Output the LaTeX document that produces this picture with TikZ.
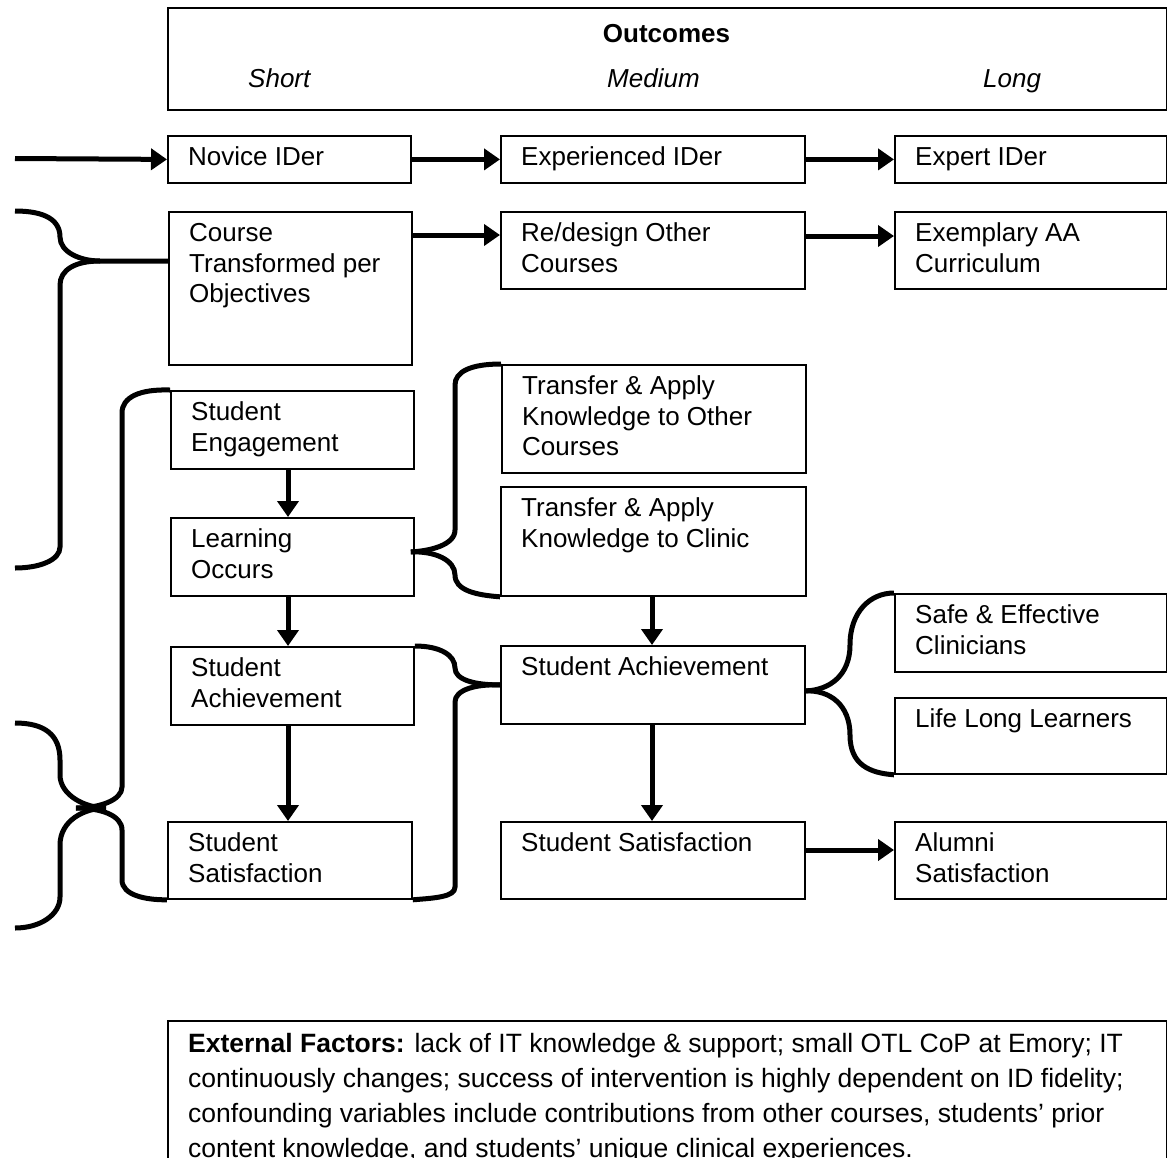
\documentclass[tikz,border=0pt]{standalone}
\usepackage{fontspec}
\setmainfont{Liberation Sans}
\usetikzlibrary{arrows.meta,calc}

\newcommand\lines[2][420pt]{\parbox[t]{#1}{#2}}

\begin{document}
\begin{tikzpicture}[x=1pt,y=-1pt,
  box/.style={draw, line width=1.8pt, inner sep=0pt, anchor=north west},
  txt/.style={anchor=base west, inner sep=0pt, font=\fontsize{26}{30.5}\selectfont},
  flow/.style={line width=5pt, -{Triangle[length=16pt,width=21pt]}},
  brace/.style={line width=5pt}]

\useasboundingbox (0,0) rectangle (1167,1157);

% header
\node[box, minimum width=999, minimum height=102] (outc) at (167,7) {};
\node[txt, anchor=base] (outc-title) at (666.5,42) {\bfseries Outcomes};
\node[txt] (short) at (248,87) {\itshape Short};
\node[txt] (medium) at (607,87) {\itshape Medium};
\node[txt] (long) at (983,87) {\itshape Long};

% boxes: name, x, y, width, height, text
\newcommand\bx[6]{%
  \node[box, minimum width=#4, minimum height=#5] (#1) at (#2,#3) {};
  \node[txt] (#1-t) at ($(#1.north west)+(21,30.5)$) {\lines{#6}};}

\bx{novice}{167}{135}{243}{47}{Novice IDer}
\bx{exper}{500}{135}{304}{47}{Experienced IDer}
\bx{expert}{894}{135}{272}{47}{Expert IDer}
\bx{course}{168}{211}{243}{153}{Course\\Transformed per\\Objectives}
\bx{redes}{500}{211}{304}{77}{Re/design Other\\Courses}
\bx{exempl}{894}{211}{272}{77}{Exemplary AA\\Curriculum}
\bx{engage}{170}{390}{243}{78}{Student\\Engagement}
\bx{trother}{501}{364}{304}{108}{Transfer \& Apply\\Knowledge to Other\\Courses}
\bx{learn}{170}{517}{243}{78}{Learning\\Occurs}
\bx{trclin}{500}{486}{305}{109}{Transfer \& Apply\\Knowledge to Clinic}
\bx{achs}{170}{646}{243}{78}{Student\\Achievement}
\bx{achm}{500}{645}{304}{78}{Student Achievement}
\bx{safe}{894}{593}{272}{78}{Safe \& Effective\\Clinicians}
\bx{life}{894}{697}{272}{76}{Life Long Learners}
\bx{sats}{167}{821}{244}{77}{Student\\Satisfaction}
\bx{satm}{500}{821}{304}{77}{Student Satisfaction}
\bx{alum}{894}{821}{272}{77}{Alumni\\Satisfaction}

% external factors
\node[box, minimum width=999, minimum height=200] (ext) at (167,1020) {};
\node[txt, font=\fontsize{26.5}{35}\selectfont] (ext-t) at ($(ext.north west)+(21,32)$)
  {\lines[990pt]{\textbf{External Factors:} lack of IT knowledge \& support; small OTL CoP at Emory; IT\\
   continuously changes; success of intervention is highly dependent on ID fidelity;\\
   confounding variables include contributions from other courses, students’ prior\\
   content knowledge, and students’ unique clinical experiences.}};

% horizontal flows
\coordinate (entry) at (15,158.5);
\draw[flow] (entry) -- (novice.west);
\draw[flow] (novice.east) -- (exper.west);
\draw[flow] (exper.east) -- (expert.west);
\draw[flow] ($(course.north east)+(0,24)$) -- ($(redes.north west)+(0,24)$);
\draw[flow] ($(redes.north east)+(0,25)$) -- ($(exempl.north west)+(0,25)$);
\draw[flow] ($(satm.north east)+(0,29)$) -- ($(alum.north west)+(0,29)$);

% vertical flows
\draw[flow] ($(engage.south west)+(118,0)$) -- ($(learn.north west)+(118,0)$);
\draw[flow] ($(learn.south west)+(118,0)$) -- ($(achs.north west)+(118,0)$);
\draw[flow] ($(achs.south west)+(118,0)$) -- ($(sats.north west)+(121,0)$);
\draw[flow] ($(trclin.south west)+(152,0)$) -- ($(achm.north west)+(152,0)$);
\draw[flow] ($(achm.south west)+(152,0)$) -- ($(satm.north west)+(152,0)$);

% braces
\coordinate (b1top) at (15,211);
\coordinate (b1bot) at (15,568);
\coordinate (b1tip) at (100,261);
\draw[brace] (b1top) .. controls (45,211) and (60,220) .. (60,237)
  .. controls (60,252) and (80,261) .. (b1tip) -- ($(course.north west)+(0,50)$);
\draw[brace] (b1tip) .. controls (75,261) and (60,270) .. (60,285) -- (60,547)
  .. controls (60,560) and (40,568) .. (b1bot);

\coordinate (b2tip) at (76,808);
\draw[brace] (engage.north west) .. controls (140,389) and (122,397) .. (122,413) -- (122,787)
  .. controls (122,800) and (100,808) .. (b2tip);
\draw[brace] (b2tip) .. controls (100,808) and (122,815) .. (122,830) -- (122,880)
  .. controls (122,895) and (145,900) .. (sats.south west);

\coordinate (b3top) at (15,723);
\coordinate (b3bot) at (15,928);
\coordinate (b3tip) at (106,808);
\draw[brace] (b3top) .. controls (45,723) and (60,735) .. (60,760) -- (60,775)
  .. controls (60,795) and (85,808) .. (b3tip);
\draw[brace] (b3tip) .. controls (85,808) and (60,820) .. (60,845) -- (60,897)
  .. controls (60,915) and (40,928) .. (b3bot);

\draw[brace] (trother.north west) .. controls (470,364) and (455,372) .. (455,385) -- (455,530)
  .. controls (455,545) and (430,551) .. ($(learn.east)+(-4,-5)$);
\draw[brace] ($(learn.east)+(-4,-5)$) .. controls (435,551) and (455,560) .. (455,575)
  .. controls (455,590) and (475,595) .. (trclin.south west);

\draw[brace] (achs.north east) .. controls (440,646) and (455,655) .. (455,668)
  .. controls (455,680) and (475,685) .. (achm.west);
\draw[brace] (achm.west) .. controls (475,684) and (455,690) .. (455,702) -- (455,887)
  .. controls (455,897) and (435,898) .. (sats.south east);

\draw[brace] ($(achm.east)+(0,6)$) .. controls (830,690) and (850,675) .. (850,645)
  .. controls (850,612) and (870,593) .. (safe.north west);
\draw[brace] ($(achm.east)+(0,6)$) .. controls (830,690) and (850,705) .. (850,735)
  .. controls (850,765) and (870,773) .. (life.south west);
\end{tikzpicture}
\end{document}
